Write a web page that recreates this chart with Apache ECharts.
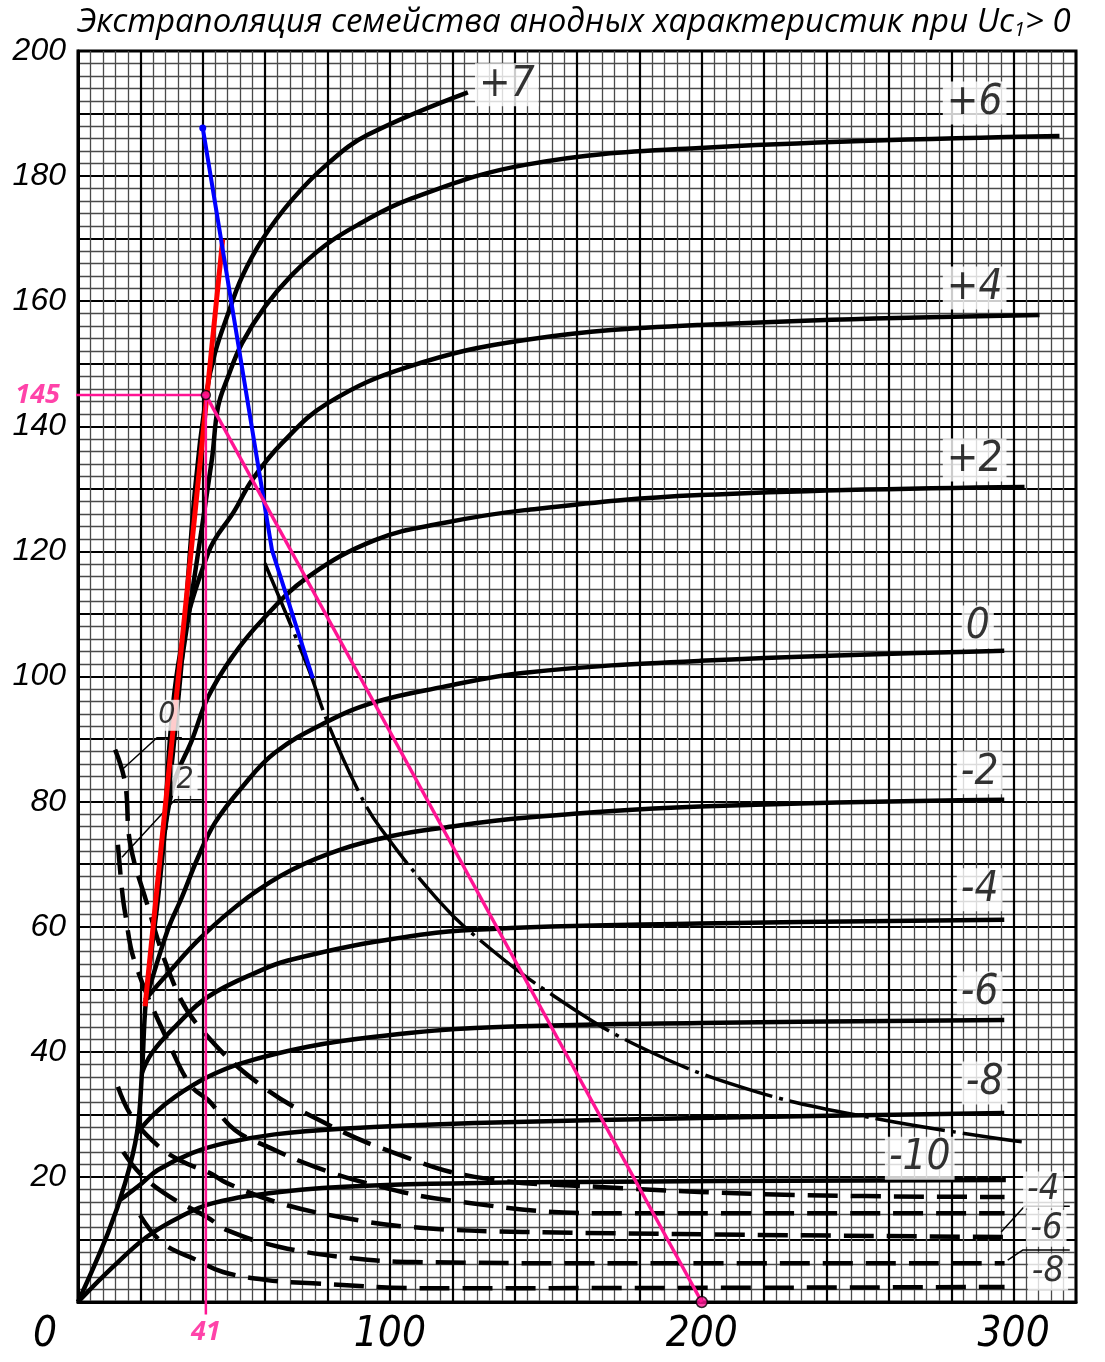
<!DOCTYPE html>
<html>
<head>
<meta charset="utf-8">
<script src="https://cdn.jsdelivr.net/npm/echarts@6/dist/echarts.min.js"></script>
<style>
  html, body { margin: 0; padding: 0; background: #fff; }
  #chart { width: 1105px; height: 1362px; }
</style>
</head>
<body>
<div id="chart"></div>
<script>
// Ua, V (x)  /  Ia, mA (y)

// solid anode characteristics, one per grid voltage
const ia_p7  = [[0,0],[9.6,11],[15.1,19],[18.9,27],[20.5,36.6],[21.8,48.3],[25.6,64.3],[27.9,75.5],[33.3,102.6],[37.5,129.8],[41.2,145.3],[43.9,151.7],[48.2,158.1],[52.6,163.9],[59,169.8],[68.6,176.2],[80.1,182],[92.9,186.6],[125,193.4]];
const ia_p6  = [[33.3,102.6],[42.9,134.6],[44.9,143.1],[48.1,147.9],[52.6,153.3],[59.9,159.1],[68.6,164.2],[79.2,168.9],[89.7,172.2],[105.8,176.2],[143.3,181.8],[199.4,184.5],[314.7,186.4]];
const ia_p4  = [[27.9,75.5],[32,101.5],[41.7,119.7],[50.3,126.6],[55.8,131.4],[65.4,137.3],[80.1,143.7],[105.8,149.5],[143.3,153.8],[199.4,156.2],[308.3,157.8]];
const ia_p2  = [[27.9,75.5],[31.1,83.5],[36.5,89.8],[41.7,96.7],[49.4,103.1],[59,109],[73.7,115.9],[95.2,121.8],[116.7,124.5],[143.3,126.6],[199.4,129],[303.5,130.3]];
const ia_0   = [[21.8,48.3],[28.8,59.5],[33.3,64.7],[38.5,71.1],[43.9,76.6],[52.6,82.3],[63.1,87.8],[79.2,92.6],[95.2,95.9],[116.7,98.3],[143.3,100.6],[199.4,102.5],[297,104.1]];
const ia_m2  = [[21.5,48.3],[27.9,52],[39.7,58.4],[54.5,64.7],[68.6,69.1],[84.6,72.4],[100.6,74.5],[116.7,75.8],[143.3,77.4],[199.4,79.2],[297,80.3]];
const ia_m4  = [[20.5,36.6],[23.7,39.8],[31.1,44],[41.7,48.8],[59,53.1],[67.3,54.6],[95.2,57.6],[127.2,59.5],[199.4,60.5],[297,61.1]];
const ia_m6  = [[18.9,27],[24.7,30.2],[31.1,32.8],[41.7,36],[52.6,38.2],[73.7,40.8],[95.2,42.4],[127.2,43.8],[199.4,44.6],[297,45.1]];
const ia_m8  = [[13.5,16.3],[20.5,19],[25.6,21.1],[36.5,23.8],[47.1,25.4],[63.1,26.8],[84.6,27.7],[127.2,28.6],[199.4,29.4],[297,30.2]];
const ia_m10 = [[0,0],[11.2,5.6],[22,10.4],[32.7,13.6],[43.3,15.8],[64.7,17.6],[92.6,18.6],[160.9,19.2],[297.5,19.5]];

// dashed curves (grid current family)
const ig_a = [[11.9,88.3],[15.1,83],[16.7,73.4],[21.5,64.7],[31.1,50.4],[39.7,43.5],[57.7,35],[79.2,28.6],[101.6,23.8],[127.2,20],[167.3,18.4],[231.4,17.1],[297.1,16.8]];
const ig_b = [[12.8,73.1],[14.1,65.9],[15.1,62.2],[18.3,54.2],[30.1,40.3],[36.5,34.4],[41.7,32.3],[50.3,27.5],[60.9,24.8],[76,21.6],[92.6,19],[118.3,16.3],[167.3,14.2],[297.1,14.2]];
const ig_c = [[12.8,34.4],[17.3,29.6],[25.6,25],[33.3,22.5],[42.3,20.6],[47.8,19],[64.7,15.8],[84,13.6],[106.4,12],[142.6,11.2],[297.1,10.4]];
const ig_d = [[14.5,24],[20,20.5],[29.5,16.8],[41.3,13.6],[47.8,11.5],[64.7,8.8],[88.1,7],[107.4,6.4],[167.3,6.2],[297.1,6.2]];
const ig_e = [[19.9,13.9],[27.2,9.4],[38.1,6.7],[46.5,4.8],[60.6,3.5],[75.3,3],[110.6,2.2],[297.1,2.4]];

// dash-dot limit curve
const limitCurve = [[59.9,118.1],[73.7,101.5],[80.1,92.6],[89.7,81.9],[96.8,75.9],[116.3,63.8],[128.8,57.9],[149.7,49.9],[180.1,40.8],[217.6,33.6],[258.3,29.1],[302.6,25.6]];

// construction lines
const redLine  = [[21.5,47.3],[46.4,169.9]];
const blueLine = [[40,187.7],[62.2,120.2],[75.3,99.7]];
const workPoint = [41, 145];
const loadEnd   = [200, 0];
const hLineStart = [-5, 145];
const vLineEnd   = [41, -2];

// labels
const solidNames = ['+7','+6','+4','+2','0','-2','-4','-6','-8','-10'];
const solidLabelAt = [[137.5,194.6],[287.5,191.7],[287.5,162.1],[287.5,134.6],[288.5,107.9],[289.1,84.6],[289.1,65.9],[289.1,49.4],[290.7,35],[269.9,23]];
const dashNames = ['-4','-6','-8'];
const dashLabelAt = [[309.5,17.9],[310.5,11.8],[311,4.8]];
const leftNames = ['0','2'];
const leftLabelAt = [[28.5,93.8],[34.3,83.4]];
const leaderZero = [[14.1,85.1],[25.3,90.2],[33.3,90.2]];
const leaderTwo  = [[14.1,71.1],[31.1,80.3],[39.7,80.3]];
const leaderSix  = [[296,11.2],[303.5,15.3],[318,15.3]];
const leaderEight = [[298.1,6.7],[302.9,8.3],[318,8.3]];

const xTickLabels = [0, 100, 200, 300];
const yTickLabels = [20, 40, 60, 80, 100, 120, 140, 160, 180, 200];

const MAGENTA = '#ff1493';
const NARROW = "'Liberation Sans Narrow','DejaVu Sans Condensed','Liberation Sans',sans-serif";
const TITLE_FONT = "'Open Sans','Liberation Sans',sans-serif";

const chart = echarts.init(document.getElementById('chart'));

const solidData = [ia_p7, ia_p6, ia_p4, ia_p2, ia_0, ia_m2, ia_m4, ia_m6, ia_m8, ia_m10];
const dashData = [ig_a, ig_b, ig_c, ig_d, ig_e];

const series = [];

solidData.forEach((d, i) => {
  series.push({
    name: solidNames[i], type: 'line', data: d, smooth: 0.4,
    showSymbol: false, symbol: 'none', z: 3,
    lineStyle: { color: '#000', width: 4.5 }
  });
});

dashData.forEach((d) => {
  series.push({
    type: 'line', data: d, smooth: 0.4, symbol: 'none', z: 3,
    lineStyle: { color: '#000', width: 4.5, type: [30, 13] }
  });
});

series.push({
  type: 'line', data: limitCurve, smooth: 0.4, symbol: 'none', z: 3,
  lineStyle: { color: '#000', width: 3.5, type: [70, 7, 4, 7] }
});

[leaderZero, leaderTwo, leaderSix, leaderEight].forEach((d) => {
  series.push({
    type: 'line', data: d, symbol: 'none', z: 3, clip: false,
    lineStyle: { color: '#000', width: 1.5 }
  });
});

series.push({
  type: 'line', data: redLine, symbol: 'none', z: 5,
  lineStyle: { color: '#ff0000', width: 5 }
});

series.push({
  type: 'line', z: 5, symbol: 'none',
  data: blueLine.map((p, i) => i === 0 ? { value: p, symbol: 'circle', symbolSize: 7 } : { value: p }),
  itemStyle: { color: '#0000ff' },
  lineStyle: { color: '#0000ff', width: 4 }
});

// load line and projections of the working point
series.push({
  type: 'line', data: [hLineStart, workPoint], symbol: 'none', z: 6, clip: false,
  lineStyle: { color: MAGENTA, width: 2.5 }
});
series.push({
  type: 'line', data: [workPoint, vLineEnd], symbol: 'none', z: 6, clip: false,
  lineStyle: { color: MAGENTA, width: 2.5 }
});
series.push({
  type: 'line', data: [workPoint, loadEnd], symbol: 'none', z: 6, clip: false,
  lineStyle: { color: MAGENTA, width: 3.5 }
});
series.push({
  type: 'scatter', z: 7, clip: false,
  data: [{ value: workPoint, symbolSize: 9 }, { value: loadEnd, symbolSize: 11 }],
  itemStyle: { color: MAGENTA, borderColor: '#000', borderWidth: 1.5 }
});
series.push({
  type: 'scatter', z: 7, clip: false, symbolSize: 1,
  itemStyle: { color: 'rgba(0,0,0,0)' },
  data: [
    { value: hLineStart, label: { show: true, position: 'left', distance: 2, formatter: String(workPoint[1]) } },
    { value: vLineEnd, label: { show: true, position: 'bottom', distance: 4, formatter: String(workPoint[0]) } }
  ],
  label: { color: MAGENTA, fontWeight: 'bold', fontStyle: 'italic', fontSize: 27, fontFamily: TITLE_FONT }
});

function labelSeries(names, at, size) {
  return {
    type: 'scatter', z: 8, clip: false, symbolSize: 1,
    itemStyle: { color: 'rgba(0,0,0,0)' },
    data: at.map((p, i) => ({ value: p, name: names[i] })),
    label: {
      show: true, position: 'inside', formatter: '{b}',
      color: '#000', fontStyle: 'italic', fontSize: size, fontFamily: NARROW,
      backgroundColor: '#fff', padding: [1, 4, 0, 4]
    }
  };
}
series.push(labelSeries(solidNames, solidLabelAt, 42));
series.push(labelSeries(dashNames, dashLabelAt, 36));
series.push(labelSeries(leftNames, leftLabelAt, 30));

const option = {
  backgroundColor: '#fff',
  animation: false,
  title: {
    text: '{t|Экстраполяция семейства анодных характеристик при Uc}{s|1}{t|> 0}',
    left: 72, top: 0,
    textStyle: {
      fontWeight: 'normal',
      rich: {
        t: { fontFamily: TITLE_FONT, fontStyle: 'italic', fontWeight: 'normal', fontSize: 33, color: '#000' },
        s: { fontFamily: TITLE_FONT, fontStyle: 'italic', fontWeight: 'normal', fontSize: 20, color: '#000', padding: [15, 0, 0, 0] }
      }
    }
  },
  grid: {
    left: 78, right: 29, top: 51, bottom: 60,
    show: true, borderColor: '#000', borderWidth: 3
  },
  xAxis: {
    type: 'value', min: 0, max: 320, interval: 20,
    axisLine: { show: true, lineStyle: { color: '#000', width: 3 } },
    axisTick: { show: false },
    minorTick: { show: false, splitNumber: 5 },
    splitLine: { show: true, lineStyle: { color: '#000', width: 2.2 } },
    minorSplitLine: { show: true, lineStyle: { color: '#4a4a4a', width: 1.3 } },
    axisLabel: {
      margin: 12, color: '#000', fontStyle: 'italic', fontSize: 42, fontFamily: NARROW,
      formatter: (v) => xTickLabels.includes(v) ? (v === 0 ? '{z|0}' : String(v)) : '',
      rich: { z: { fontStyle: 'italic', fontSize: 42, fontFamily: NARROW, padding: [0, 66, 0, 0] } }
    }
  },
  yAxis: {
    type: 'value', min: 0, max: 200, interval: 10,
    axisLine: { show: true, lineStyle: { color: '#000', width: 3 } },
    axisTick: { show: false },
    minorTick: { show: false, splitNumber: 5 },
    splitLine: { show: true, lineStyle: { color: '#000', width: 2.2 } },
    minorSplitLine: { show: true, lineStyle: { color: '#4a4a4a', width: 1.3 } },
    axisLabel: {
      margin: 12, color: '#000', fontStyle: 'italic', fontSize: 32,
      fontFamily: "'Liberation Sans',sans-serif",
      formatter: (v) => yTickLabels.includes(v) ? String(v) : ''
    }
  },
  series: series
};

chart.setOption(option);
</script>
</body>
</html>
